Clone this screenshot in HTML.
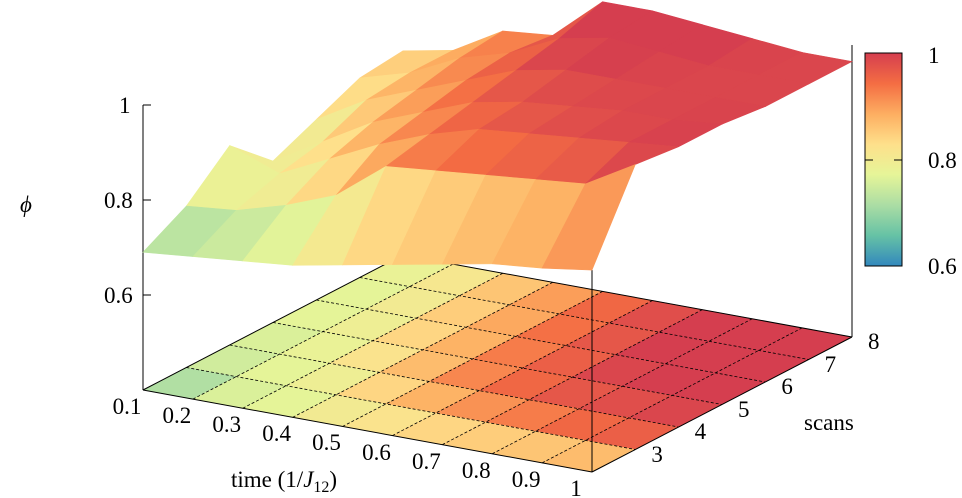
<!DOCTYPE html>
<html><head><meta charset="utf-8"><style>
body{margin:0;background:#fff;}
#w{position:relative;width:962px;height:498px;overflow:hidden;}
svg{display:block;position:absolute;left:0;top:0;}
.t{position:absolute;font-family:"Liberation Serif","DejaVu Serif",serif;font-size:23px;line-height:23px;color:#000;white-space:nowrap;}
</style></head><body>
<div id="w">
<svg id="s" width="962" height="498" viewBox="0 0 962 498" xmlns="http://www.w3.org/2000/svg">
<defs><linearGradient id="cb" x1="0" y1="1" x2="0" y2="0">
<stop offset="0" stop-color="#3288bd"/><stop offset="0.143" stop-color="#66c2a5"/><stop offset="0.286" stop-color="#abdda4"/><stop offset="0.429" stop-color="#e6f598"/><stop offset="0.571" stop-color="#fee08b"/><stop offset="0.714" stop-color="#fdae61"/><stop offset="0.857" stop-color="#f46d43"/><stop offset="1" stop-color="#d53e4f"/></linearGradient></defs>
<g id="floor"></g>
<g id="fgrid" stroke="#000" stroke-width="0.8" stroke-dasharray="3,2" fill="none"></g>
<g stroke="#000" stroke-width="1" fill="none">
<line x1="143" y1="105" x2="143" y2="390"/>
<line x1="143" y1="105" x2="151" y2="105"/><line x1="143" y1="200" x2="151" y2="200"/><line x1="143" y1="295" x2="151" y2="295"/>
<line x1="143" y1="390" x2="403" y2="255"/>
<line x1="403" y1="255" x2="852" y2="337"/>
<line x1="143" y1="390" x2="592" y2="472"/>
<line x1="592" y1="472" x2="852" y2="337"/>
<line x1="852" y1="337" x2="852" y2="45"/>
<line x1="592" y1="472" x2="592" y2="270"/>
</g>
<g id="surf"></g>
<rect x="865" y="53" width="37" height="213" fill="url(#cb)" stroke="#000" stroke-width="1"/>
<line x1="865" y1="160" x2="873" y2="160" stroke="#000"/><line x1="894" y1="160" x2="902" y2="160" stroke="#000"/>
</svg>
<div id="labels"></div>
<div class="t" style="left:928px;top:44px">1</div>
<div class="t" style="left:928px;top:149px">0.8</div>
<div class="t" style="left:928px;top:255px">0.6</div>
<div class="t" style="left:119px;top:94px">1</div>
<div class="t" style="left:104px;top:189px">0.8</div>
<div class="t" style="left:104px;top:284px">0.6</div>
<div class="t" style="left:20px;top:193px;font-style:italic">ϕ</div>
<div class="t" style="left:804px;top:411px">scans</div>
<div class="t" style="left:231px;top:468px">time (1/<i>J</i><span style="font-size:16px;position:relative;top:5px">12</span>)</div>
</div>
<script>
var Z=[
[0.69,0.70,0.71,0.72,0.74,0.76,0.78,0.80,0.81,0.825],
[0.74,0.75,0.78,0.82,0.90,0.91,0.92,0.93,0.94,1.00],
[0.82,0.78,0.83,0.88,0.92,0.95,0.96,0.97,0.98,0.99],
[0.74,0.80,0.86,0.90,0.94,0.96,0.97,0.98,0.98,0.99],
[0.78,0.84,0.88,0.92,0.96,0.98,0.98,0.98,0.98,0.98],
[0.82,0.85,0.90,0.93,0.98,1.00,0.99,0.98,0.98,0.98],
[0.83,0.85,0.91,0.92,1.01,1.01,1.00,0.99,0.98,0.98]];
var F=[
[0.72,0.76,0.77,0.80,0.82,0.84,0.85,0.86,0.87],
[0.75,0.77,0.79,0.84,0.88,0.91,0.93,0.95,0.96],
[0.76,0.78,0.82,0.87,0.92,0.95,0.97,0.98,0.99],
[0.77,0.79,0.84,0.88,0.93,0.96,0.99,1.0,1.0],
[0.77,0.80,0.85,0.89,0.94,0.97,1.0,1.0,1.0],
[0.78,0.81,0.86,0.90,0.95,0.98,1.0,1.0,1.0]];
var C=["#3288bd","#66c2a5","#abdda4","#e6f598","#fee08b","#fdae61","#f46d43","#d53e4f"];
function hx(c){return [parseInt(c.substr(1,2),16),parseInt(c.substr(3,2),16),parseInt(c.substr(5,2),16)];}
function col(z){var t=(z-0.6)/0.4*7;t=Math.max(0,Math.min(6.999,t));var i=Math.floor(t),f=t-i,a=hx(C[i]),b=hx(C[i+1]);
return "rgb("+a.map(function(v,k){return Math.round(v+(b[k]-v)*f)}).join(",")+")";}
function P(i,j,z){var t=i/9,u=j/6;return [143+t*449+u*260,390+t*82-u*135-(z-0.4)*475];}
var fl="",gr="",sf="";
for(var j=5;j>=0;j--)for(var i=0;i<9;i++){
 var zz=(Z[j][i]+Z[j][i+1]+Z[j+1][i]+Z[j+1][i+1])/4+0.01;
 var p=[P(i,j,0.4),P(i+1,j,0.4),P(i+1,j+1,0.4),P(i,j+1,0.4)];
 fl+='<polygon points="'+p.join(" ")+'" fill="'+col(F[j][i])+'" stroke="'+col(F[j][i])+'" stroke-width="0.5"/>';
 var q=[P(i,j,Z[j][i]),P(i+1,j,Z[j][i+1]),P(i+1,j+1,Z[j+1][i+1]),P(i,j+1,Z[j+1][i])];
 sf+='<polygon points="'+q.join(" ")+'" fill="'+col(zz)+'" stroke="'+col(zz)+'" stroke-width="0.6"/>';
}
for(var i=1;i<9;i++){var a=P(i,0,0.4),b=P(i,6,0.4);gr+='<line x1="'+a[0]+'" y1="'+a[1]+'" x2="'+b[0]+'" y2="'+b[1]+'"/>';}
for(var j=1;j<6;j++){var a=P(0,j,0.4),b=P(9,j,0.4);gr+='<line x1="'+a[0]+'" y1="'+a[1]+'" x2="'+b[0]+'" y2="'+b[1]+'"/>';}
document.getElementById("floor").innerHTML=fl;
document.getElementById("fgrid").innerHTML=gr;
document.getElementById("surf").innerHTML=sf;
var lb="",xl=["0.1","0.2","0.3","0.4","0.5","0.6","0.7","0.8","0.9","1"];
for(var i=0;i<10;i++){var p=P(i,0,0.4);lb+='<div class="t" style="left:'+(p[0]-36)+'px;width:40px;text-align:center;top:'+(p[1]+5)+'px">'+xl[i]+'</div>';}
for(var j=1;j<7;j++){var p=P(9,j,0.4);lb+='<div class="t" style="left:'+(p[0]+16)+'px;top:'+(p[1]-7)+'px">'+(j+2)+'</div>';}
document.getElementById("labels").innerHTML=lb;
</script>
</body></html>
